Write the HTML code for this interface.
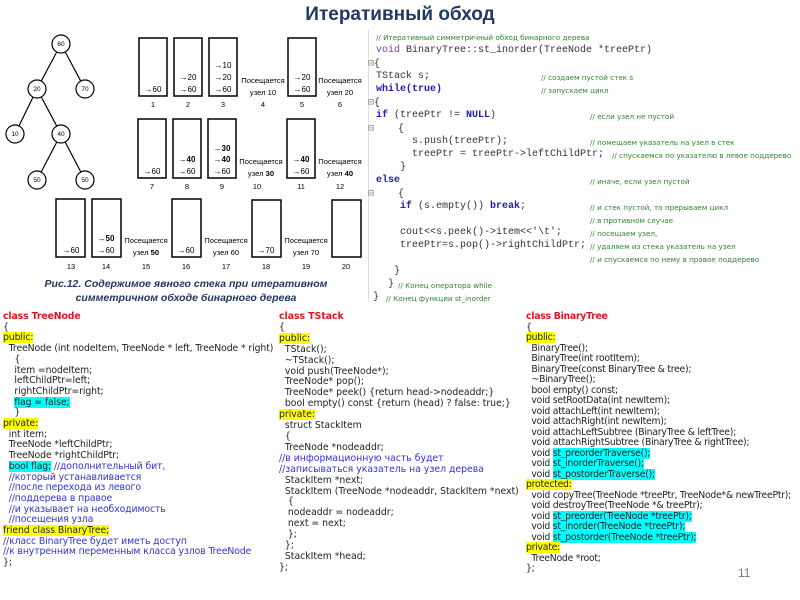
<!DOCTYPE html>
<html><head><meta charset="utf-8"><style>
body{margin:0;width:800px;height:600px;background:#fff;position:relative;overflow:hidden;font-family:"Liberation Sans","DejaVu Sans",sans-serif}
.t{position:absolute;white-space:pre;}
.c{font-size:9.3px;line-height:10.7px;color:#222;font-family:"DejaVu Sans","Liberation Sans",sans-serif}
.r{color:#e0141e;font-weight:bold}
.y{background:#ffff00}
.cy{background:#00ffff}
.b{color:#3333dd}
.m{position:absolute;font-family:"Liberation Mono",monospace;font-size:10px;white-space:pre;color:#333}
.kw{color:#2020b0;font-weight:bold}
.kv{color:#8040a0}
.g{position:absolute;font-family:"DejaVu Sans",sans-serif;font-size:7.2px;color:#2a8a2a;white-space:pre}
</style></head><body>
<div class="t" style="left:0;width:800px;top:4px;text-align:center;font-size:19px;font-weight:bold;color:#1f3864">Итеративный обход</div>

<svg style="position:absolute;left:0;top:0" width="370" height="310" font-family="Liberation Sans,sans-serif">
<g stroke="#000" stroke-width="1.2" fill="none">
<line x1="61" y1="44" x2="37" y2="89"/><line x1="61" y1="44" x2="85" y2="89"/>
<line x1="37" y1="89" x2="15" y2="134"/><line x1="37" y1="89" x2="61" y2="134"/>
<line x1="61" y1="134" x2="37" y2="180"/><line x1="61" y1="134" x2="85" y2="180"/>
</g>
<g stroke="#000" stroke-width="1.2" fill="#fff">
<circle cx="61" cy="44" r="9"/><circle cx="37" cy="89" r="9"/><circle cx="85" cy="89" r="9"/>
<circle cx="15" cy="134" r="9"/><circle cx="61" cy="134" r="9"/><circle cx="37" cy="180" r="9"/><circle cx="85" cy="180" r="9"/>
</g>
<g font-size="6.5" text-anchor="middle">
<text x="61" y="46">60</text><text x="37" y="91">20</text><text x="85" y="91">70</text>
<text x="15" y="136">10</text><text x="61" y="136">40</text><text x="37" y="182">50</text><text x="85" y="182">50</text>
</g>
<g stroke="#000" stroke-width="1.5" fill="none">
<rect x="139" y="38" width="28" height="58"/><rect x="174" y="38" width="28" height="58"/><rect x="209" y="38" width="28" height="58"/><rect x="288" y="38" width="28" height="58"/>
<rect x="138" y="119" width="28" height="59"/><rect x="173" y="119" width="28" height="59"/><rect x="208" y="119" width="28" height="59"/><rect x="287" y="119" width="28" height="59"/>
<rect x="56" y="199" width="29" height="58"/><rect x="92" y="199" width="29" height="58"/><rect x="172" y="199" width="29" height="58"/><rect x="252" y="200" width="29" height="57"/><rect x="332" y="200" width="29" height="57"/>
</g>
<g font-size="8" text-anchor="middle">
<text x="153" y="92">→60</text>
<text x="188" y="80">→20</text><text x="188" y="92">→60</text>
<text x="223" y="68">→10</text><text x="223" y="80">→20</text><text x="223" y="92">→60</text>
<text x="302" y="80">→20</text><text x="302" y="92">→60</text>
<text x="152" y="174">→60</text>
<text x="187" y="162" font-weight="bold">→40</text><text x="187" y="174">→60</text>
<text x="222" y="151" font-weight="bold">→30</text><text x="222" y="162" font-weight="bold">→40</text><text x="222" y="174">→60</text>
<text x="301" y="162" font-weight="bold">→40</text><text x="301" y="174">→60</text>
<text x="71" y="253">→60</text>
<text x="106" y="241" font-weight="bold">→50</text><text x="106" y="253">→60</text>
<text x="186" y="253">→60</text><text x="266" y="253">→70</text>
</g>
<g font-size="7.6" text-anchor="middle">
<text x="263" y="83">Посещается</text><text x="263" y="95">узел 10</text>
<text x="340" y="83">Посещается</text><text x="340" y="95">узел 20</text>
<text x="261" y="164">Посещается</text><text x="261" y="176">узел <tspan font-weight="bold">30</tspan></text>
<text x="340" y="164">Посещается</text><text x="340" y="176">узел <tspan font-weight="bold">40</tspan></text>
<text x="146" y="243">Посещается</text><text x="146" y="255">узел <tspan font-weight="bold">50</tspan></text>
<text x="226" y="243">Посещается</text><text x="226" y="255">узел 60</text>
<text x="306" y="243">Посещается</text><text x="306" y="255">узел 70</text>
</g>
<g font-size="7.5" text-anchor="middle">
<text x="153" y="107">1</text><text x="188" y="107">2</text><text x="223" y="107">3</text><text x="263" y="107">4</text><text x="302" y="107">5</text><text x="340" y="107">6</text>
<text x="152" y="189">7</text><text x="187" y="189">8</text><text x="222" y="189">9</text><text x="257" y="189">10</text><text x="301" y="189">11</text><text x="340" y="189">12</text>
<text x="71" y="269">13</text><text x="106" y="269">14</text><text x="146" y="269">15</text><text x="186" y="269">16</text><text x="226" y="269">17</text><text x="266" y="269">18</text><text x="306" y="269">19</text><text x="346" y="269">20</text>
</g>
<g font-size="10.5" font-style="italic" font-weight="bold" fill="#1f3864" text-anchor="middle">
<text x="186" y="287">Рис.12. Содержимое явного стека при итеративном</text>
<text x="186" y="301">симметричном обходе бинарного дерева</text>
</g>
</svg>

<div style="position:absolute;left:368px;top:30px;width:2px;height:272px;border-left:1px solid #ddd"></div>
<div class="g" style="left:376px;top:33px">// Итеративный симметричный обход бинарного дерева</div>
<div class="m" style="left:376px;top:45px"><span class="kv">void</span> BinaryTree::st_inorder(TreeNode *treePtr)</div>
<div class="m" style="left:368px;top:58px;color:#888">⊟<span style="color:#333">{</span></div>
<div class="m" style="left:376px;top:71px">TStack s;</div><div class="g" style="left:541px;top:73px">// создаем пустой стек s</div>
<div class="m" style="left:376px;top:84px"><span class="kw">while(true)</span></div><div class="g" style="left:541px;top:86px">// запускаем цикл</div>
<div class="m" style="left:368px;top:97px;color:#888">⊟<span style="color:#333">{</span></div>
<div class="m" style="left:376px;top:110px"><span class="kw">if</span> (treePtr != <span class="kw">NULL</span>)</div><div class="g" style="left:590px;top:112px">// если узел не пустой</div>
<div class="m" style="left:368px;top:123px;color:#888">⊟    <span style="color:#333">{</span></div>
<div class="m" style="left:376px;top:136px">      s.push(treePtr);</div><div class="g" style="left:590px;top:138px">// помещаем указатель на узел в стек</div>
<div class="m" style="left:376px;top:149px">      treePtr = treePtr-&gt;leftChildPtr;</div><div class="g" style="left:612px;top:151px">// спускаемся по указателю в левое поддерево</div>
<div class="m" style="left:376px;top:162px">    }</div>
<div class="m" style="left:376px;top:175px"><span class="kw">else</span></div><div class="g" style="left:590px;top:177px">// иначе, если узел пустой</div>
<div class="m" style="left:368px;top:188px;color:#888">⊟    <span style="color:#333">{</span></div>
<div class="m" style="left:376px;top:201px">    <span class="kw">if</span> (s.empty()) <span class="kw">break</span>;</div><div class="g" style="left:590px;top:203px">// и стек пустой, то прерываем цикл</div>
<div class="g" style="left:590px;top:216px">// в противном случае</div>
<div class="m" style="left:376px;top:227px">    cout&lt;&lt;s.peek()-&gt;item&lt;&lt;'\t';</div><div class="g" style="left:590px;top:229px">// посещаем узел,</div>
<div class="m" style="left:376px;top:240px">    treePtr=s.pop()-&gt;rightChildPtr;</div><div class="g" style="left:590px;top:242px">// удаляем из стека указатель на узел</div>
<div class="g" style="left:590px;top:255px">// и спускаемся по нему в правое поддерево</div>
<div class="m" style="left:376px;top:266px">   }</div>
<div class="m" style="left:376px;top:279px">  }</div><div class="g" style="left:398px;top:281px">// Конец оператора while</div>
<div class="m" style="left:373px;top:292px">}</div><div class="g" style="left:386px;top:294px">// Конец функции st_inorder</div>

<div class="t c" style="left:3px;top:312px;letter-spacing:-0.1px"><span class="r">class TreeNode</span>
{
<span class="y">public:</span>
  TreeNode (int nodeItem, TreeNode * left, TreeNode * right)
    {
    item =nodeItem;
    leftChildPtr=left;
    rightChildPtr=right;
    <span class="cy">flag = false;</span>
    }
<span class="y">private:</span>
  int item;
  TreeNode *leftChildPtr;
  TreeNode *rightChildPtr;
  <span class="cy">bool flag;</span> <span class="b">//дополнительный бит,</span>
<span class="b">  //который устанавливается
  //после перехода из левого
  //поддерева в правое
  //и указывает на необходимость
  //посещения узла</span>
<span class="y">friend class BinaryTree;</span>
<span class="b">//класс BinaryTree будет иметь доступ
//к внутренним переменным класса узлов TreeNode</span>
};</div>

<div class="t c" style="left:279px;top:312px;line-height:10.9px"><span class="r">class TStack</span>
{
<span class="y">public:</span>
  TStack();
  ~TStack();
  void push(TreeNode*);
  TreeNode* pop();
  TreeNode* peek() {return head-&gt;nodeaddr;}
  bool empty() const {return (head) ? false: true;}
<span class="y">private:</span>
  struct StackItem
  {
  TreeNode *nodeaddr;
<span class="b">//в информационную часть будет
//записываться указатель на узел дерева</span>
  StackItem *next;
  StackItem (TreeNode *nodeaddr, StackItem *next)
   {
   nodeaddr = nodeaddr;
   next = next;
   };
  };
  StackItem *head;
};</div>

<div class="t c" style="left:526px;top:312px;line-height:10.5px;letter-spacing:-0.25px"><span class="r">class BinaryTree</span>
{
<span class="y">public:</span>
  BinaryTree();
  BinaryTree(int rootItem);
  BinaryTree(const BinaryTree &amp; tree);
  ~BinaryTree();
  bool empty() const;
  void setRootData(int newItem);
  void attachLeft(int newItem);
  void attachRight(int newItem);
  void attachLeftSubtree (BinaryTree &amp; leftTree);
  void attachRightSubtree (BinaryTree &amp; rightTree);
  void <span class="cy">st_preorderTraverse();</span>
  void <span class="cy">st_inorderTraverse();</span>
  void <span class="cy">st_postorderTraverse();</span>
<span class="y">protected:</span>
  void copyTree(TreeNode *treePtr, TreeNode*&amp; newTreePtr);
  void destroyTree(TreeNode *&amp; treePtr);
  void <span class="cy">st_preorder(TreeNode *treePtr);</span>
  void <span class="cy">st_inorder(TreeNode *treePtr);</span>
  void <span class="cy">st_postorder(TreeNode *treePtr);</span>
<span class="y">private:</span>
  TreeNode *root;
};</div>
<div class="t" style="left:738px;top:566px;font-size:12px;color:#777">11</div>
</body></html>
